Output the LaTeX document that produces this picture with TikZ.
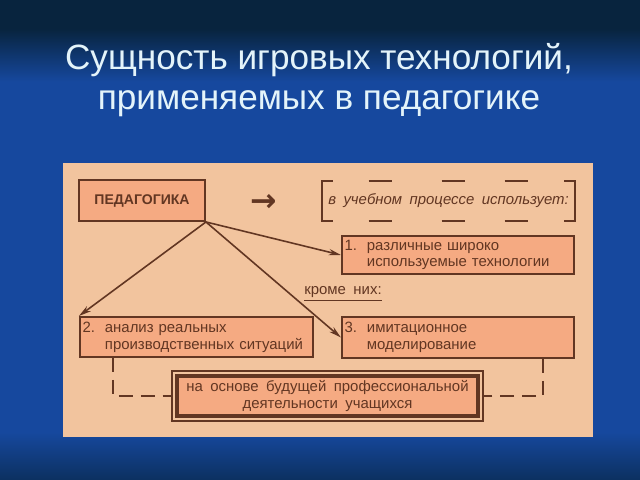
\documentclass[tikz,border=0pt]{standalone}
\usepackage{fontspec}
\setmainfont[WordSpace=1.8]{Liberation Sans}
\newfontfamily\titlefont{Liberation Sans}
\newfontfamily\symfont{DejaVu Sans}
\usetikzlibrary{arrows.meta, calc, positioning}

\definecolor{panelbg}{RGB}{242,196,158}
\definecolor{boxbg}{RGB}{245,170,130}
\definecolor{brn}{RGB}{98,54,34}
\definecolor{bgtop}{RGB}{8,36,62}
\definecolor{bgmid}{RGB}{22,72,158}
\definecolor{bgbot}{RGB}{12,48,96}
\definecolor{titlecol}{RGB}{228,244,250}
\pgfdeclareverticalshading{slidebg}{100bp}{color(0bp)=(bgbot); color(25bp)=(bgbot);
  color(30bp)=(bgmid); color(66.5bp)=(bgmid); color(72bp)=(bgtop); color(100bp)=(bgtop)}

\tikzset{
  item/.style={draw=brn, fill=boxbg, line width=1.1pt, text=brn, align=left,
    inner xsep=1.5pt, inner ysep=1pt, font=\fontsize{8.5}{9.5}\selectfont},
  link/.style={brn, line width=0.9pt, -{Stealth[length=7pt, width=3.6pt]}},
  dlink/.style={brn, line width=1pt, dash pattern=on 8pt off 4.5pt},
}

\begin{document}
\begin{tikzpicture}[x=0.02cm, y=-0.02cm]
 \useasboundingbox (0,0) rectangle (640,480);
 \shade[shading=slidebg] (0,0) rectangle (640,480);

 \node[titlecol, font=\titlefont\fontsize{20}{22.5}\selectfont, align=center] (title) at (319,80)
   {Сущность игровых технологий,\\применяемых в педагогике};

 \fill[panelbg] (63,163) rectangle (593,437);

 \node[item, align=center, font=\fontsize{8}{9}\selectfont\bfseries,
   minimum width=2.52cm, minimum height=0.82cm] (ped) at (142,200.5) {ПЕДАГОГИКА};
 \node[text=brn, font=\symfont\bfseries\fontsize{18}{18}\selectfont] (sym) at (264,203) {→};

 % bracket with the dashed frame
 \node[text=brn, font=\fontsize{8.5}{9.5}\selectfont\itshape,
   minimum width=5.06cm, minimum height=0.8cm] (uses) at (448.5,201) {в учебном процессе использует:};
 \draw[brn, line width=1.1pt] ($(uses.north west)+(11,0)$) -- (uses.north west)
   -- (uses.south west) -- ++(11,0);
 \draw[brn, line width=1.1pt] ($(uses.north east)+(-11,0)$) -- (uses.north east)
   -- (uses.south east) -- ++(-11,0);
 \foreach \dx in {47,120,183} {
   \draw[brn, line width=1.1pt] ($(uses.north west)+(\dx,0)$) -- ++(23,0);
   \draw[brn, line width=1.1pt] ($(uses.south west)+(\dx,0)$) -- ++(23,0);
 }

 \node[item, text width=4.54cm, minimum height=0.76cm] (tech) at (458,255)
   {1.~~различные широко\\\phantom{1.~~}используемые технологии};
 \node[item, text width=4.56cm, minimum height=0.8cm] (cases) at (196.5,337)
   {2.~~анализ реальных\\\phantom{2.~~}производственных ситуаций};
 \node[item, text width=4.54cm, minimum height=0.82cm] (imit) at (458,337.5)
   {3.~~имитационное\\\phantom{3.~~}моделирование};

 \node[text=brn, font=\fontsize{8.5}{9.5}\selectfont] (besides) at (343,294) {\underline{кроме них:}};

 \node[item, align=center, line width=2.8pt, outer sep=0pt, minimum width=6.02cm,
   minimum height=0.8cm] (basis) at (327.5,396)
   {на основе будущей профессиональной\\деятельности учащихся};
 \draw[brn, line width=0.8pt] ($(basis.north west)+(-5,-5)$) rectangle ($(basis.south east)+(5,5)$);
 \coordinate (frameL) at ($(basis.west)+(-5,0)$);
 \coordinate (frameR) at ($(basis.east)+(5,0)$);

 \draw[link] (ped.south east) -- (tech.west);
 \draw[link] (ped.south east) -- (cases.north west);
 \draw[link] (ped.south east) -- (imit.west);

 \draw[dlink] ($(cases.south west)+(34,0)$) |- (frameL);
 \draw[dlink] ($(imit.south east)+(-32,0)$) |- (frameR);
\end{tikzpicture}
\end{document}
